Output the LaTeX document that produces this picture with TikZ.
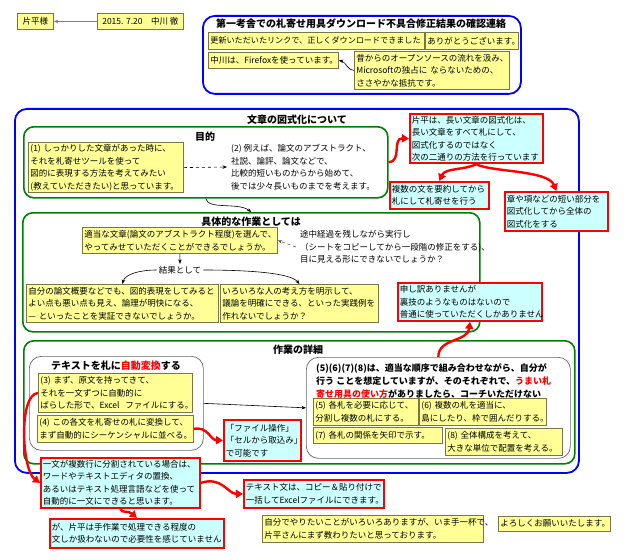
\documentclass[tikz,border=0pt]{standalone}
\usepackage{fontspec}
\setmainfont{Noto Sans CJK JP}
\usepackage{xcolor}
\usetikzlibrary{arrows.meta}
\definecolor{fudayellow}{RGB}{255,255,150}
\definecolor{fudaedge}{RGB}{120,120,70}
\definecolor{memocyan}{RGB}{204,255,255}
\definecolor{wakugreen}{RGB}{0,128,0}
\definecolor{wakublue}{RGB}{0,0,255}

\begin{document}
\begin{tikzpicture}[x=1pt,y=-1pt,font=\fontsize{8.5pt}{12.5pt}\selectfont,
  fuda/.style={draw=fudaedge,fill=fudayellow,line width=0.8pt,inner sep=2pt,align=left,anchor=north west},
  memo/.style={draw=red,fill=memocyan,line width=1.8pt,inner sep=2pt,align=left,anchor=north west},
  waku/.style={draw=wakugreen,line width=1.6pt,rounded corners=10pt,inner sep=0pt,anchor=north west},
  ookiwaku/.style={draw=wakublue,line width=1.8pt,rounded corners=12pt,inner sep=0pt,anchor=north west},
  haiiro/.style={draw=gray!80!black,fill=white,line width=0.7pt,rounded corners=12pt,inner sep=0pt,anchor=north west},
  midashi/.style={font=\fontsize{10pt}{12pt}\selectfont\bfseries,inner sep=1pt},
  akaya/.style={draw=red,line width=2.4pt,-{Triangle[length=7pt,width=8pt]}},
  ya/.style={line width=0.6pt,-{Stealth[length=4.5pt,width=3.5pt]}}]
\fill[white] (0,0) rectangle (631,559);
\useasboundingbox (0,0) rectangle (631,559);

\node[fuda,minimum width=36pt,minimum height=16pt] (katahira) at (17,13) {片平様};
\node[fuda,minimum width=86pt,minimum height=16pt] (date) at (97,13) {2015. 7.20　中川 徹};
\draw[ya,gray] (date.west) -- (katahira.east);

\node[ookiwaku,minimum width=318pt,minimum height=78pt] (renraku) at (202,15) {};
\node[midashi] (t1) at (361,24) {第一考舎での札寄せ用具ダウンロード不具合修正結果の確認連絡};
\node[fuda,text width=212pt,minimum height=17pt,font=\fontsize{8.1pt}{12pt}\selectfont] (koushin) at (208,32) {更新いただいたリンクで、正しくダウンロードできました};
\node[fuda,text width=89pt,minimum height=17pt] (arigatou) at (425,32) {ありがとうございます。};
\node[fuda,text width=126pt,minimum height=16pt] (firefox) at (208,52) {中川は、Firefoxを使っています。};
\node[fuda,text width=151pt,minimum height=38pt] (mukashi) at (354,51) {昔からのオープンソースの流れを汲み、\\Microsoftの独占に~ならないための、\\ささやかな抵抗です。};
\draw[ya] (mukashi.west) .. controls (348,71) and (346,62) .. (firefox.east);

\node[ookiwaku,minimum width=564pt,minimum height=364pt] (zushiki) at (14,108) {};
\node[midashi] (t2) at (297,120) {文章の図式化について};

\node[waku,minimum width=364pt,minimum height=71pt] (mokuteki) at (23,126) {};
\node[midashi] (t3) at (205,137) {目的};
\node[fuda,text width=151pt,minimum height=49pt] (ichi) at (28,142) {(1)~しっかりした文章があった時に、\\それを札寄せツールを使って\\図的に表現する方法を考えてみたい\\(教えていただきたい)と思っています。};
\node[anchor=west,align=left,inner sep=4pt] (rei) at (227,167) {(2)~例えば、論文のアブストラクト、\\社説、論評、論文などで、\\比較的短いものからから始めて、\\後では少々長いものまでを考えます。};
\draw[ya,dashed] (ichi.east) -- (rei.west);

\node[waku,minimum width=457pt,minimum height=119pt] (gutai) at (22,212) {};
\draw[ya] (mokuteki.south) .. controls (208,210) and (238,202) .. (gutai.north);
\node[midashi] (t4) at (251,222) {具体的な作業としては};
\node[fuda,text width=191pt,minimum height=26pt] (teki) at (82,227) {適当な文章(論文のアブストラクト程度)を選んで、\\やってみせていただくことができるでしょうか。};
\node[anchor=west,align=left,inner sep=4pt] (tochu) at (296,247) {途中経過を残しながら実行し\\（シートをコピーしてから一段階の修正をする)、\\目に見える形にできないでしょうか？};
\draw[ya,dashed,gray!70!black] (tochu.west) -- (teki.east);
\node[inner sep=2pt] (kekka) at (180,270) {結果として};
\draw[ya] (teki.south) -- (kekka.north);
\node[fuda,text width=188pt,minimum height=38pt] (jibun) at (26,284) {自分の論文概要などでも、図的表現をしてみると\\よい点も悪い点も見え、論理が明快になる、\\—~といったことを実証できないでしょうか。};
\node[fuda,text width=154pt,minimum height=38pt] (iroiro) at (220,284) {いろいろな人の考え方を明示して、\\議論を明確にできる、といった実践例を\\作れないでしょうか？};
\draw[ya] (kekka.west) .. controls (140,270) and (125,274) .. (jibun.north);
\draw[ya] (kekka.east) .. controls (240,270) and (290,272) .. (iroiro.north);

\node[waku,minimum width=551pt,minimum height=123pt] (shousai) at (23,340) {};
\node[midashi] (t5) at (298,350) {作業の詳細};
\node[haiiro,minimum width=174pt,minimum height=94pt] (henkan) at (29,356) {};
\node[midashi] (t6) at (116,366) {テキストを札に\textcolor{red}{自動変換}する};
\node[fuda,text width=150pt,minimum height=39pt] (san) at (38,373) {(3)~まず、原文を持ってきて、\\それを一文ずつに自動的に\\ばらした形で、Excel~~ファイルにする。};
\node[fuda,text width=152pt,minimum height=27pt] (yon) at (37,415) {(4)~この各文を札寄せの札に変換して、\\まず自動的にシーケンシャルに並べる。};
\node[memo,text width=73pt,minimum height=41pt] (file) at (223,419) {「ファイル操作」\\「セルから取込み」\\で可能です};

\node[haiiro,minimum width=264pt,minimum height=101pt] (kumi) at (306,357) {};
\node[anchor=north west,align=left,inner sep=0pt,font=\fontsize{9pt}{13pt}\selectfont\bfseries] (kumitxt) at (316,363) {(5)(6)(7)(8)は、適当な順序で組み合わせながら、自分が\\行う ことを想定していますが、そのそれぞれで、\textcolor{red}{うまい札}\\\textcolor{red}{寄せ用具の使い方}がありましたら、コーチいただけない};
\node[fuda,text width=101pt,minimum height=27pt] (go) at (313,398) {(5)~各札を必要に応じて、\\分割し複数の札にする。};
\node[fuda,text width=123pt,minimum height=27pt] (roku) at (419,398) {(6)~複数の札を適当に、\\島にしたり、枠で囲んだりする。};
\node[fuda,text width=125pt,minimum height=16pt] (nana) at (313,427) {(7)~各札の関係を矢印で示す。};
\node[fuda,text width=113pt,minimum height=27pt] (hachi) at (445,428) {(8)~全体構成を考えて、\\大きな単位で配置を考える。};
\draw[ya] (henkan.east) -- (kumi.west);

\node[memo,text width=129pt,minimum height=49pt] (hkata) at (409,113) {片平は、長い文章の図式化は、\\長い文章をすべて札にして、\\図式化するのではなく\\次の二通りの方法を行っています};
\node[memo,text width=95pt,minimum height=27pt] (fukusu) at (389,181) {複数の文を要約してから\\札にして札寄せを行う};
\node[memo,text width=99pt,minimum height=39pt] (shou) at (504,191) {章や項などの短い部分を\\図式化してから全体の\\図式化をする};
\node[memo,text width=140pt,minimum height=38pt] (moushi) at (397,282) {申し訳ありませんが\\裏技のようなものはないので\\普通に使っていただくしかありません};
\node[memo,text width=155pt,minimum height=50pt] (ichibun) at (40,457) {一文が複数行に分割されている場合は、\\ワードやテキストエディタの置換、\\あるいはテキスト処理言語などを使って\\自動的に一文にできると思います。};
\node[memo,text width=136pt,minimum height=28pt] (textbun) at (243,479) {テキスト文は、コピー＆貼り付けで\\一括してExcelファイルにできます。};
\node[memo,text width=170pt,minimum height=29pt] (ga) at (49,518) {が、片平は手作業で処理できる程度の\\文しか扱わないので必要性を感じていません};
\node[fuda,text width=217pt,minimum height=27pt] (yaritai) at (262,515) {自分でやりたいことがいろいろありますが、いま手一杯で、\\片平さんにまず教わりたいと思っております。};
\node[fuda,text width=108pt,minimum height=15pt] (yoroshiku) at (498,516) {よろしくお願いいたします。};

\draw[akaya] (mokuteki.east) .. controls (402,162) and (392,138) .. (hkata.west);
\draw[akaya] (hkata.south) .. controls (465,170) and (445,168) .. (fukusu.north);
\draw[akaya] (hkata.south) .. controls (490,172) and (548,170) .. (shou.north);
\draw[akaya] (kumi.north) .. controls (438,338) and (468,342) .. (moushi.south);
\draw[akaya] (yon.east) .. controls (208,426) and (210,440) .. (file.west);
\draw[akaya] (san.west) .. controls (18,395) and (22,470) .. (ichibun.west);
\draw[akaya] (ichibun.east) .. controls (222,476) and (228,494) .. (textbun.west);
\draw[akaya] (ichibun.south) .. controls (122,514) and (128,510) .. (ga.north);
\end{tikzpicture}
\end{document}
